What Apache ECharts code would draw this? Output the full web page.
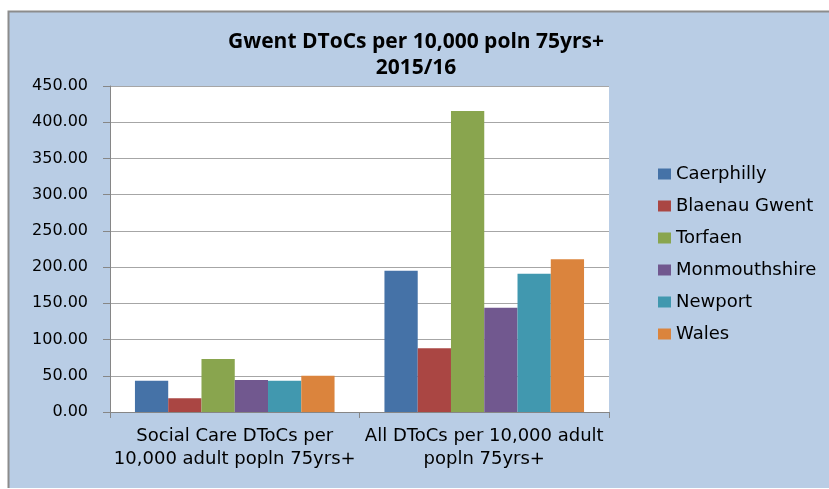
<!DOCTYPE html>
<html>
<head>
<meta charset="utf-8">
<script src="https://cdn.jsdelivr.net/npm/echarts@6/dist/echarts.min.js"></script>
<style>
  html, body { margin: 0; padding: 0; background: #ffffff; overflow: hidden; }
  #chart { width: 829px; height: 489px; }
</style>
</head>
<body>
<div id="chart"></div>
<script>
// Indicator categories along the x axis
const categories = [
  'Social Care DToCs per\n10,000 adult popln 75yrs+',
  'All DToCs per 10,000 adult\npopln 75yrs+'
];

// Delayed transfers of care per 10,000 population aged 75+, 2015/16
const caerphilly    = [43.2, 195.0];
const blaenauGwent  = [18.9, 87.9];
const torfaen       = [73.2, 415.5];
const monmouthshire = [44.2, 144.0];
const newport       = [43.2, 190.9];
const wales         = [50.1, 210.8];

const seriesNames = ['Caerphilly', 'Blaenau Gwent', 'Torfaen', 'Monmouthshire', 'Newport', 'Wales'];
const seriesData  = [caerphilly, blaenauGwent, torfaen, monmouthshire, newport, wales];
const colors = ['#4572A7', '#AA4643', '#89A54E', '#71588F', '#4198AF', '#DB843D'];

// Value axis range
const yMin = 0, yMax = 450, yStep = 50;

const wideFont = '"DejaVu Sans", Verdana, sans-serif';
const titleFont = '"Open Sans", "Liberation Sans", sans-serif';

const chart = echarts.init(document.getElementById('chart'), null, { renderer: 'canvas' });

chart.setOption({
  animation: false,
  color: colors,
  graphic: [{
    // chart panel background
    type: 'rect',
    z: -10,
    silent: true,
    shape: { x: 9, y: 12, width: 830, height: 476 },
    style: { fill: '#B9CDE5' }
  }, {
    // panel edge on the left and top
    type: 'polyline',
    z: -9,
    silent: true,
    shape: { points: [[8.5, 488], [8.5, 11.5], [840, 11.5]] },
    style: { fill: null, stroke: '#8C8C8C', lineWidth: 2 }
  }, {
    // plot area background
    type: 'rect',
    z: -9,
    silent: true,
    shape: { x: 110, y: 86, width: 499, height: 326 },
    style: { fill: '#ffffff' }
  }],
  title: {
    text: 'Gwent DToCs per 10,000 poln 75yrs+\n2015/16',
    left: 416,
    top: 29,
    padding: 0,
    textAlign: 'center',
    textStyle: {
      fontFamily: titleFont,
      fontWeight: 'bold',
      fontSize: 21,
      lineHeight: 26,
      color: '#000000'
    }
  },
  legend: {
    orient: 'vertical',
    left: 658,
    top: 164,
    padding: 0,
    itemWidth: 13,
    itemHeight: 11,
    itemGap: 12,
    icon: 'rect',
    data: seriesNames,
    textStyle: {
      fontFamily: wideFont,
      fontSize: 18,
      lineHeight: 20,
      color: '#000000'
    }
  },
  grid: { left: 110, top: 86, right: 220, bottom: 77, containLabel: false },
  xAxis: {
    type: 'category',
    data: categories,
    axisLine: { lineStyle: { color: '#868686', width: 1 } },
    axisTick: { show: true, length: 6, lineStyle: { color: '#868686' } },
    axisLabel: {
      interval: 0,
      hideOverlap: false,
      margin: 13,
      fontFamily: wideFont,
      fontSize: 18,
      lineHeight: 23,
      color: '#000000'
    }
  },
  yAxis: {
    type: 'value',
    min: yMin,
    max: yMax,
    interval: yStep,
    axisLine: { show: true, lineStyle: { color: '#868686', width: 1 } },
    axisTick: { show: true, length: 7, lineStyle: { color: '#868686' } },
    splitLine: { lineStyle: { color: '#A6A6A6', width: 1 } },
    axisLabel: {
      margin: 22,
      fontFamily: wideFont,
      fontSize: 16,
      color: '#000000',
      formatter: v => v.toFixed(2)
    }
  },
  series: seriesNames.map((name, i) => ({
    name: name,
    type: 'bar',
    data: seriesData[i],
    barGap: '0%',
    barCategoryGap: '20%',
    itemStyle: { color: colors[i] }
  }))
});
</script>
</body>
</html>
